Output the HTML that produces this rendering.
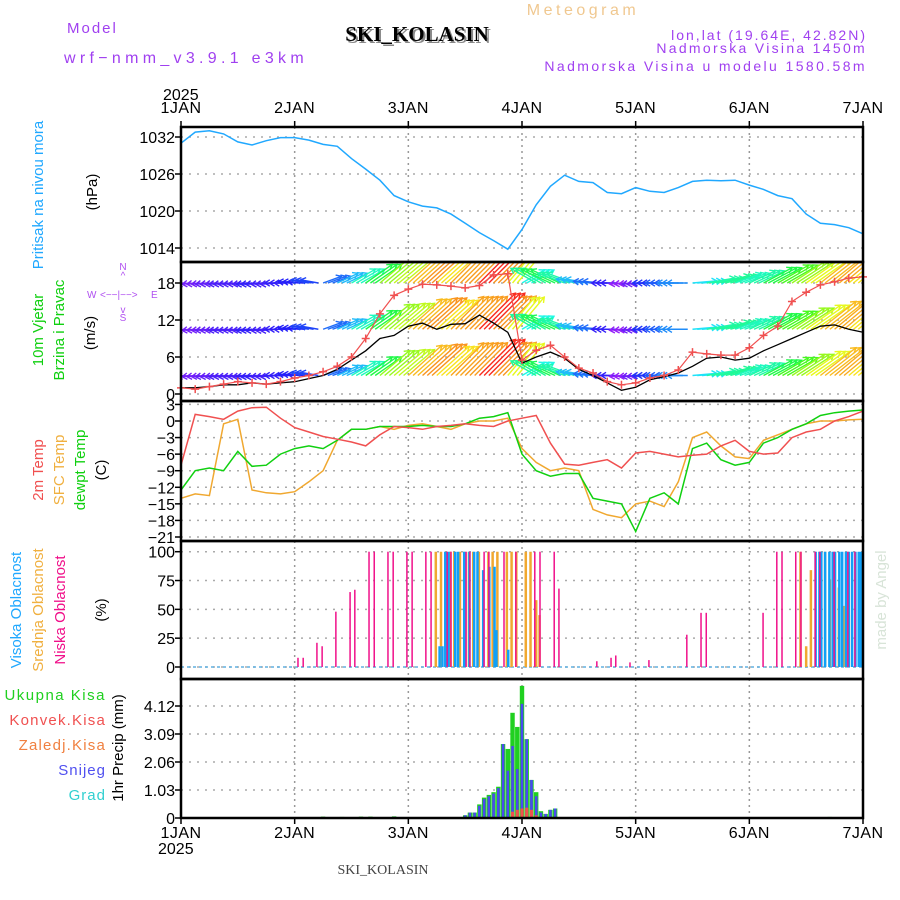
<!DOCTYPE html>
<html><head><meta charset="utf-8"><style>
body{margin:0;background:#fff;}
svg{display:block;font-family:"Liberation Sans",sans-serif;}
</style></head><body>
<svg id="c" width="900" height="900" viewBox="0 0 900 900" xmlns="http://www.w3.org/2000/svg">
<g font-size="15">
<text x="67" y="33" fill="#a040f0" letter-spacing="2">Model</text>
<text x="64" y="63" fill="#a040f0" font-size="16" letter-spacing="4.3">wrf−nmm_v3.9.1 e3km</text>
<text x="419" y="43" text-anchor="middle" font-family="Liberation Serif,serif" font-size="21" font-weight="bold" fill="#888">SKI_KOLASIN</text>
<text x="417" y="41" text-anchor="middle" font-family="Liberation Serif,serif" font-size="21" font-weight="bold" fill="#000">SKI_KOLASIN</text>
<text x="583" y="15" text-anchor="middle" fill="#f0c890" font-size="16" letter-spacing="3.5">Meteogram</text>
<text x="867" y="40" text-anchor="end" font-size="14" fill="#a040f0" letter-spacing="2">lon,lat (19.64E, 42.82N)</text>
<text x="867" y="53" text-anchor="end" font-size="14" fill="#a040f0" letter-spacing="2.3">Nadmorska Visina 1450m</text>
<text x="867" y="71" text-anchor="end" font-size="14" fill="#a040f0" letter-spacing="2.4">Nadmorska Visina u modelu 1580.58m</text>
<text x="383" y="874" font-family="Liberation Serif,serif" font-size="14" fill="#444" text-anchor="middle">SKI_KOLASIN</text>
<text transform="translate(886,600) rotate(-90)" text-anchor="middle" font-size="15" fill="#d8e4d8">made by Angel</text>
</g>
<g font-size="15">
<text transform="translate(43,195) rotate(-90)" text-anchor="middle" fill="#20a8ff">Pritisak na nivou mora</text>
<text transform="translate(97,192) rotate(-90)" text-anchor="middle" fill="#000">(hPa)</text>
<text transform="translate(43,330) rotate(-90)" text-anchor="middle" fill="#10d010">10m Vjetar</text>
<text transform="translate(64,330) rotate(-90)" text-anchor="middle" fill="#10d010">Brzina i Pravac</text>
<text transform="translate(95,333) rotate(-90)" text-anchor="middle" fill="#000">(m/s)</text>
<g fill="#b050f0" font-size="10">
<text x="123" y="270" text-anchor="middle">N</text><text x="123" y="279" text-anchor="middle">^</text>
<text x="87" y="298">W</text><text x="100" y="298">&lt;−−|−−&gt;</text><text x="151" y="298">E</text>
<text x="123" y="313" text-anchor="middle">v</text><text x="123" y="321" text-anchor="middle">S</text>
</g>
<text transform="translate(43,470) rotate(-90)" text-anchor="middle" fill="#f05050">2m Temp</text>
<text transform="translate(64,470) rotate(-90)" text-anchor="middle" fill="#f0b040">SFC Temp</text>
<text transform="translate(85,470) rotate(-90)" text-anchor="middle" fill="#10d010">dewpt Temp</text>
<text transform="translate(106,470) rotate(-90)" text-anchor="middle" fill="#000">(C)</text>
<text transform="translate(21,610) rotate(-90)" text-anchor="middle" fill="#20a8ff">Visoka Oblacnost</text>
<text transform="translate(43,610) rotate(-90)" text-anchor="middle" fill="#f0b040">Srednja Oblacnost</text>
<text transform="translate(65,610) rotate(-90)" text-anchor="middle" fill="#f0108a">Niska Oblacnost</text>
<text transform="translate(106,610) rotate(-90)" text-anchor="middle" fill="#000">(%)</text>
<text x="106" y="700" text-anchor="end" fill="#20d020" letter-spacing="1.5">Ukupna Kisa</text>
<text x="106" y="725" text-anchor="end" fill="#f05050" letter-spacing="1.2">Konvek.Kisa</text>
<text x="106" y="750" text-anchor="end" fill="#f08040" letter-spacing="1.2">Zaledj.Kisa</text>
<text x="106" y="775" text-anchor="end" fill="#5050f0" letter-spacing="1">Snijeg</text>
<text x="106" y="800" text-anchor="end" fill="#30d0d0" letter-spacing="1">Grad</text>
<text transform="translate(123,748) rotate(-90)" text-anchor="middle" fill="#000">1hr Precip (mm)</text>
</g>
<g id="plot"></g>
</svg>
<script>
const hours=[0,3,6,9,12,15,18,21,24,27,30,33,36,39,42,45,48,51,54,57,60,63,66,69,72,75,78,81,84,87,90,93,96,99,102,105,108,111,114,117,120,123,126,129,132,135,138,141,144];
const dayLabels=["1JAN","2JAN","3JAN","4JAN","5JAN","6JAN","7JAN"];
const pressure=[1031,1032.8,1033,1032.5,1031.2,1030.7,1031.4,1031.9,1031.9,1031.5,1030.8,1030.5,1028.5,1026.8,1025,1022.5,1021.5,1020.8,1020.5,1019.5,1018,1016.5,1015.2,1013.8,1017,1021,1024,1025.8,1024.8,1024.6,1023,1022.8,1023.8,1023.2,1023,1023.8,1024.8,1025,1024.9,1025,1024.2,1023.5,1022.5,1022,1019.5,1018,1017.8,1017.3,1016.3];
const pTicks=[1014,1020,1026,1032];
const windSpeed=[1,1,1.2,1.5,1.5,1.8,1.6,1.8,2,2.5,3,4,5.5,7,9,9.5,11,11.5,10.5,11.3,11.4,12.8,11.5,10,5,6,6.8,5.8,4,3,1.8,0.6,1.1,2.3,2.8,3.4,4.5,5.8,6,5.5,5.8,7,8,9,10,11,11.2,10.5,10];
const windGust=[1,0.8,1.2,1.6,2,1.8,1.6,2,2.6,3,3.6,4.5,6,9,13,16,17,17.8,17.7,17.5,17.2,17.6,19.3,19.5,5.5,7.1,7.9,6,4.2,3.4,2,1.5,1.8,2.6,3,3.9,6.8,6.5,6.3,6.3,7.5,9.5,11,15,16.5,17.7,18.2,18.8,19];
const windDir=[185,185,185,185,185,185,185,180,175,170,20,25,30,35,40,40,42,42,42,45,45,45,45,50,30,150,155,160,170,175,180,185,185,180,180,180,5,10,15,20,25,28,30,33,35,38,40,40,40];
const windRows=[18,10.5,3];
const wTicks=[0,6,12,18];
const temp2m=[-8,1.2,0.8,0.3,1.8,2.4,2.5,0.5,-1.2,-2,-2.8,-3.3,-3.8,-4.5,-2.5,-1,-1.2,-1.5,-1,-0.8,-0.5,-0.8,-1,0,0.5,1,-4,-7.8,-8,-7.5,-7,-8.5,-5.8,-5.5,-6,-6.5,-6.2,-6,-4.5,-3.5,-5.5,-6,-5.8,-3,-2,-1.5,0,0.8,1.8];
const tempSfc=[-14,-13.2,-13.5,-0.5,0.3,-12.5,-13,-13.2,-12.8,-11,-9,-3.5,-1.5,-1.5,-1,-1.5,-0.8,-0.5,-1,-1.5,-0.5,0,0,0.5,-5,-7.5,-9,-8.5,-9,-16,-17,-17.5,-15,-14.5,-15.5,-11,-3,-2,-4.5,-6.5,-6.8,-3.5,-2.5,-1.5,-0.5,0,0,0.2,0.3];
const tempDew=[-12.5,-9,-8.5,-9,-5.5,-8.2,-8,-6,-5,-4.5,-5,-3.5,-1.5,-1.5,-1,-1,-1,-0.8,-1,-1,-0.5,0.5,0.8,1.5,-6,-9,-10,-9.5,-9.5,-14,-14.5,-15,-20,-14,-13,-15,-5,-4,-7,-8,-7.5,-4,-3,-1.5,-0.5,1,1.5,1.8,2];
const tTicks=[3,0,-3,-6,-9,-12,-15,-18,-21];
const lowHours=[24.7,25.8,28.7,29.8,32.7,35.7,36.7,39.7,40.8,43.7,44.8,47.7,48.8,51.7,52.8,56.2,57,60.2,61,64,65,68.2,70.7,74.7,75.8,78.8,79.8,87.8,90.8,91.8,94.8,98.8,106.8,109.8,110.9,122.9,125.8,126.9,129.8,130.9,133.9,134.9,137.9,140.8,142.3];
const lowVals=[8,8,21,18,48,65,67,100,100,100,100,100,100,100,100,100,100,100,100,100,100,100,100,100,100,100,68,5,8,10,4,6,28,47,47,47,100,100,100,100,100,100,100,100,100];
const midHours=[53.8,54.9,55.9,56.9,57.7,58.9,59.8,60.8,61.7,62.9,64.9,65.8,66.8,68.8,69.8,70.8,72.8,73.8,75,75.7,130.8,132,133,134.9,136,137,138.9,139.9,141];
const midVals=[100,100,100,100,100,100,100,100,100,100,100,100,100,100,100,100,100,100,58,45,100,18,84,100,100,76,69,53,45];
const highHours=[54.6,55.2,55.8,56.5,57.9,58.5,59.8,60.9,61.9,62.6,63.8,65.1,66.2,66.6,69.1,134,134.8,135.2,136,136.9,137.6,138.1,139,139.6,140.4,141,141.7,142.4,143.1,143.6];
const highVals=[18,18,100,100,100,100,100,100,100,100,84,87,87,32,15,100,100,100,100,100,100,100,100,100,100,100,100,100,100,100];
const cTicks=[0,25,50,75,100];
const precipHours=[30,34,38,40,45,60,61,62,63,64,65,66,67,68,69,70,71,72,73,74,75,76,77,78,79,95,137];
const precipTotal=[0.05,0.04,0.05,0.05,0.06,0.1,0.2,0.2,0.5,0.75,0.85,0.95,1.15,2.72,2.54,3.87,3.35,4.86,2.9,1.4,0.95,0.25,0.15,0.3,0.35,0.04,0.04];
const precipSnow=[0.03,0.02,0.03,0.03,0.04,0.1,0.2,0.2,0.45,0.7,0.8,0.9,1.1,2.72,1.74,2.65,1.8,4.2,2.9,1.4,0.8,0.2,0.15,0.3,0.35,0,0];
const precipConv=[0,0,0,0,0,0,0,0,0,0,0,0,0,0,0,0.23,0.3,0.35,0.38,0.3,0.1,0,0,0,0,0,0];
const prTicks=[0,1.03,2.06,3.09,4.12];

const NS="http://www.w3.org/2000/svg";
const plot=document.getElementById('plot');
const L=181,R=863;
const X=h=>L+h*(R-L)/144;
const yP=v=>137+(1032-v)*37/6;
const yW=v=>394-v*37/6;
const yT=v=>421-v*116/21;
const yC=v=>667-v*115.3/100;
const yR=v=>818-v*112/4.12;
const panels=[[127,262],[262,401],[401,541],[541,679],[679,818]];
function mk(tag,attrs,parent){const e=document.createElementNS(NS,tag);for(const k in attrs)e.setAttribute(k,attrs[k]);(parent||plot).appendChild(e);return e;}

const grid=mk('g',{});


function hgrid(ticks,yf,labels){ticks.forEach((t,i)=>{const y=yf(t);
 mk('line',{x1:L,x2:R,y1:y,y2:y,stroke:'#aaa','stroke-width':1.5,'stroke-dasharray':'2,6'},grid);
 mk('line',{x1:L-6,x2:L,y1:y,y2:y,stroke:'#000','stroke-width':1.5},grid);
 const tx=mk('text',{x:L-6,y:y+6,'text-anchor':'end','font-size':16,fill:'#000'},grid);
 tx.textContent=labels?labels[i]:String(t).replace('-','−');
 
 });}
hgrid(pTicks,yP);hgrid(wTicks,yW);hgrid(tTicks,yT);hgrid(cTicks,yC);hgrid(prTicks,yR,prTicks.map(v=>v===0?'0':v.toFixed(2)));
for(let d=1;d<6;d++){const x=X(d*24);mk('line',{x1:x,x2:x,y1:127,y2:818,stroke:'#999','stroke-width':1.5,'stroke-dasharray':'2,4'},grid);}
dayLabels.forEach((lab,d)=>{const x=X(d*24);
 mk('line',{x1:x,x2:x,y1:121,y2:127,stroke:'#000','stroke-width':1.5},grid);
 mk('line',{x1:x,x2:x,y1:818,y2:824,stroke:'#000','stroke-width':1.5},grid);
 const t1=mk('text',{x:x,y:113,'text-anchor':'middle','font-size':16,'letter-spacing':'0.5'},grid);t1.textContent=lab;
 
 
 const t2=mk('text',{x:x,y:838,'text-anchor':'middle','font-size':16,'letter-spacing':'0.5'},grid);t2.textContent=lab;
 
 });
const y1=mk('text',{x:163,y:100,'font-size':16},grid);y1.textContent='2025';


const y2=mk('text',{x:158,y:854,'font-size':16},grid);y2.textContent='2025';



function line(vals,yf,color,name,w){const p=vals.map((v,i)=>X(hours[i]).toFixed(1)+','+yf(v).toFixed(1)).join(' ');
 const e=mk('polyline',{points:p,fill:'none',stroke:color,'stroke-width':w||1.5});
 
 return e;}
line(pressure,yP,'#20a8ff','pressure-line');

const defs=mk('defs',{});
const clip=mk('clipPath',{id:'wclip'},defs);
mk('rect',{x:L,y:263,width:R-L,height:138},clip);
const wg=mk('g',{'clip-path':'url(#wclip)'});


function spdColor(s){let h=285-s*22;if(h<-45)h=-45;return 'hsl('+((h+360)%360)+',95%,55%)';}
windRows.forEach(rv=>{const by=yW(rv);
 hours.forEach((h,i)=>{for(let k=0;k<3;k++){if(h+k>144)break;
  const x0=X(h+k),s=windSpeed[i],len=10+s*3.2,a=windDir[i]*Math.PI/180;
  const x1=x0+Math.cos(a)*len,y1=by-Math.sin(a)*len;
  const c=spdColor(s);
  const g=mk('g',{stroke:c,'stroke-width':1.4,fill:'none'},wg);
  mk('line',{x1:x0,y1:by,x2:x1,y2:y1},g);
  const b1=a+Math.PI*0.82,b2=a-Math.PI*0.82;
  mk('polyline',{points:(x1+Math.cos(b1)*6)+','+(y1-Math.sin(b1)*6)+' '+x1+','+y1+' '+(x1+Math.cos(b2)*6)+','+(y1-Math.sin(b2)*6)},g);}});});
line(windSpeed,yW,'#000','wind-speed-line',1.3);
line(windGust,yW,'#f05050','wind-gust-line',1.2);
const gg=mk('g',{stroke:'#f05050','stroke-width':1.5});


windGust.forEach((v,i)=>{const x=X(hours[i]),y=yW(v);mk('path',{d:`M${x-4},${y}h8M${x},${y-4}v8`},gg);});

line(tempSfc,yT,'#f0a830','temp-sfc-line');
line(tempDew,yT,'#10d010','temp-dewpt-line');
line(temp2m,yT,'#f05050','temp-2m-line');

const cg=mk('g',{});


mk('line',{x1:L,x2:R,y1:yC(0),y2:yC(0),stroke:'#60b0e0','stroke-width':1.5,'stroke-dasharray':'3,3'},cg);
function cbars(hs,vs,color,w){hs.forEach((h,i)=>{const x=X(h);mk('line',{x1:x,x2:x,y1:yC(0),y2:yC(vs[i]),stroke:color,'stroke-width':w},cg);});}
cbars(midHours,midVals,'#f0a830',2.5);
cbars(highHours,highVals,'#10a0f8',2.5);
cbars(lowHours,lowVals,'#f0108a',1.5);

const pg=mk('g',{});


precipHours.forEach((h,i)=>{const x=X(h);
 mk('rect',{x:x-2.2,y:yR(precipTotal[i]),width:4.4,height:818-yR(precipTotal[i]),fill:'#20d020'},pg);
 if(precipSnow[i]>0)mk('rect',{x:x-1.3,y:yR(precipSnow[i]),width:2.6,height:818-yR(precipSnow[i]),fill:'#4a4af0'},pg);
 if(precipConv[i]>0)mk('rect',{x:x-1.6,y:yR(precipConv[i]),width:3.2,height:818-yR(precipConv[i]),fill:'#f05050'},pg);});

panels.forEach(([t,b])=>{const r=mk('rect',{x:L,y:t,width:R-L,height:b-t,fill:'none',stroke:'#000','stroke-width':2.5});
 
 });
</script>
</body></html>
